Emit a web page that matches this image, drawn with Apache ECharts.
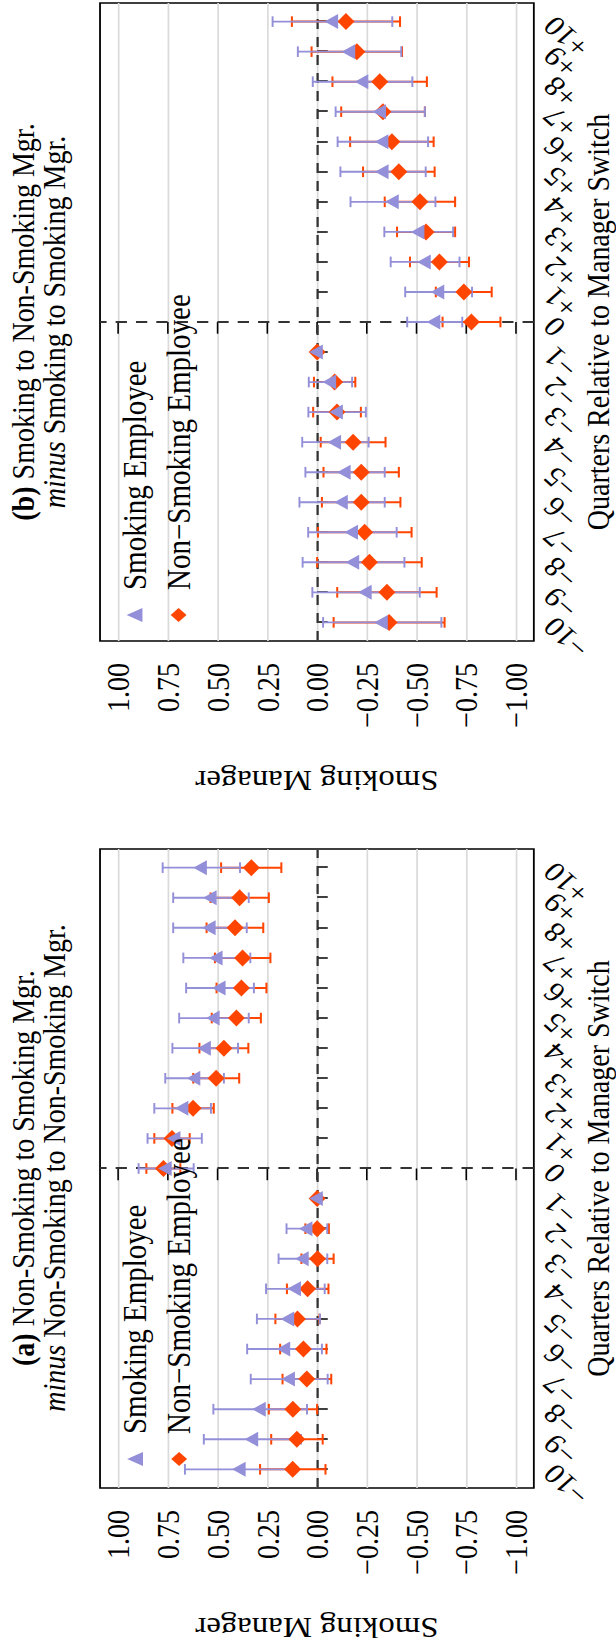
<!DOCTYPE html>
<html><head><meta charset="utf-8">
<script src="https://cdn.jsdelivr.net/npm/echarts@6/dist/echarts.min.js"></script>
<style>
html,body{margin:0;padding:0;overflow:hidden;background:#fff;width:616px;height:1650px;}
#chart{position:absolute;left:0;top:0;width:1650px;height:545px;transform-origin:0 0;transform:translate(0px,1650px) rotate(-90deg) scaleY(1.1303);}
</style></head><body><div id="chart"></div>
<script>
// ---------------- data ----------------
const quarters = [-10,-9,-8,-7,-6,-5,-4,-3,-2,-1,0,1,2,3,4,5,6,7,8,9,10];
const quarterLabels = ['\u221210','\u22129','\u22128','\u22127','\u22126','\u22125','\u22124','\u22123','\u22122','\u22121','0','+1','+2','+3','+4','+5','+6','+7','+8','+9','+10'];
const valueTicks = [-1,-0.75,-0.5,-0.25,0,0.25,0.5,0.75,1];
const valueTickLabels = ['\u22121.00','\u22120.75','\u22120.50','\u22120.25','0.00','0.25','0.50','0.75','1.00'];

// Panel (a): Non-Smoking to Smoking Mgr. minus Non-Smoking to Non-Smoking Mgr.
const aSmokEst = [0.388,0.325,0.287,0.140,0.164,0.144,0.110,0.071,0.052,0, 0.760,0.716,0.676,0.616,0.563,0.519,0.489,0.504,0.539,0.534,0.583];
const aSmokLo  = [0.111,0.081,0.051,-0.053,-0.024,-0.014,-0.038,-0.051,-0.051,null, 0.621,0.580,0.534,0.469,0.398,0.344,0.318,0.336,0.354,0.344,0.388];
const aSmokHi  = [0.665,0.570,0.522,0.334,0.352,0.303,0.257,0.194,0.154,null, 0.898,0.853,0.819,0.764,0.728,0.694,0.659,0.673,0.724,0.724,0.777];
const aNonEst  = [0.123,0.102,0.122,0.052,0.069,0.099,0.048,-0.002,0.000,0, 0.773,0.730,0.624,0.508,0.469,0.406,0.381,0.375,0.413,0.390,0.331];
const aNonLo   = [-0.042,-0.028,0.000,-0.071,-0.047,-0.012,-0.057,-0.083,-0.059,null, 0.688,0.641,0.520,0.392,0.346,0.283,0.255,0.235,0.271,0.243,0.180];
const aNonHi   = [0.287,0.231,0.243,0.174,0.186,0.210,0.152,0.079,0.059,null, 0.859,0.819,0.728,0.623,0.592,0.530,0.506,0.514,0.556,0.536,0.483];

// Panel (b): Smoking to Non-Smoking Mgr. minus Smoking to Smoking Mgr.
const bSmokEst = [-0.327,-0.246,-0.183,-0.177,-0.126,-0.140,-0.092,-0.101,-0.067,0, -0.591,-0.611,-0.543,-0.511,-0.382,-0.331,-0.330,-0.318,-0.229,-0.163,-0.077];
const bSmokLo  = [-0.625,-0.516,-0.439,-0.400,-0.340,-0.340,-0.259,-0.245,-0.176,null, -0.730,-0.779,-0.716,-0.684,-0.595,-0.546,-0.558,-0.542,-0.479,-0.423,-0.378];
const bSmokHi  = [-0.030,0.024,0.073,0.045,0.089,0.059,0.075,0.044,0.042,null, -0.453,-0.443,-0.370,-0.338,-0.168,-0.117,-0.103,-0.093,0.022,0.097,0.224];
const bNonEst  = [-0.362,-0.351,-0.263,-0.239,-0.222,-0.222,-0.181,-0.100,-0.088,0, -0.776,-0.738,-0.615,-0.548,-0.517,-0.411,-0.376,-0.331,-0.315,-0.200,-0.145];
const bNonLo   = [-0.641,-0.601,-0.526,-0.475,-0.419,-0.411,-0.344,-0.220,-0.192,null, -0.922,-0.878,-0.764,-0.694,-0.694,-0.591,-0.586,-0.542,-0.552,-0.427,-0.417];
const bNonHi   = [-0.083,-0.101,0.000,-0.004,-0.024,-0.032,-0.018,0.020,0.016,null, -0.631,-0.597,-0.467,-0.402,-0.340,-0.231,-0.166,-0.121,-0.077,0.028,0.127];

const panelTitles = [
  '{b|(a)} Non-Smoking to Smoking Mgr.\n{i|minus} Non-Smoking to Non-Smoking Mgr.',
  '{b|(b)} Smoking to Non-Smoking Mgr.\n{i|minus} Smoking to Smoking Mgr.'
];
const smokName = 'Smoking Employee';
const nonName = 'Non\u2212Smoking Employee';

// label order: even quarters first, then odd ones (keeps ECharts from
// treating neighbouring rotated labels at the axis ends as overlapping)
const labelOrder = quarters.filter(q => q % 2 === 0).concat(quarters.filter(q => q % 2 !== 0));

// ---------------- styles ----------------
const FONT = 'Liberation Serif, Times New Roman, serif';
const PURPLE = '#938FD8';
const ORANGE = '#FF4500';
const grids = [
  {left:162, top:88.5, width:639, height:383.8},
  {left:1009, top:88.5, width:638, height:383.8}
];
const titleCenters = [482, 1328];
const legendPos = [{left:184, top:104.5}, {left:1028, top:104}];

function errRenderer(width){
  return function(params, api){
    const x = api.value(0), lo = api.value(1), hi = api.value(2);
    if (isNaN(lo) || isNaN(hi)) return null;
    const p1 = api.coord([x, lo]), p2 = api.coord([x, hi]);
    const st = {stroke: api.visual('color'), lineWidth: width, fill: null};
    const st2 = {stroke: api.visual('color'), lineWidth: width * 0.9, fill: null};
    const c = 5.3;
    return {type:'group', children:[
      {type:'line', shape:{x1:p1[0], y1:p1[1], x2:p2[0], y2:p2[1]}, style:st},
      {type:'line', shape:{x1:p1[0]-c, y1:p1[1], x2:p1[0]+c, y2:p1[1]}, style:st2},
      {type:'line', shape:{x1:p2[0]-c, y1:p2[1], x2:p2[0]+c, y2:p2[1]}, style:st2}
    ]};
  };
}
function errData(lo, hi){
  const out = [];
  quarters.forEach((q,i)=>{ if (lo[i] != null) out.push([q, lo[i], hi[i]]); });
  return out;
}
function ptData(est){ return quarters.map((q,i)=>[q, est[i]]); }

const panels = [
  {smokEst:aSmokEst, smokLo:aSmokLo, smokHi:aSmokHi, nonEst:aNonEst, nonLo:aNonLo, nonHi:aNonHi},
  {smokEst:bSmokEst, smokLo:bSmokLo, smokHi:bSmokHi, nonEst:bNonEst, nonLo:bNonLo, nonHi:bNonHi}
];

const option = {
  animation:false,
  backgroundColor:'#fff',
  title: panelTitles.map((t,g)=>({
    text:t, left:titleCenters[g], top:6, textAlign:'center', padding:0,
    textStyle:{fontFamily:FONT, fontSize:28, fontWeight:'normal', color:'#000', lineHeight:27.8,
      rich:{ b:{fontFamily:FONT, fontSize:28, fontWeight:'bold', color:'#000', lineHeight:27.8},
             i:{fontFamily:FONT, fontSize:28, fontStyle:'italic', color:'#000', lineHeight:27.8} }}
  })),
  legend: legendPos.map(p=>({
    left:p.left, top:p.top, orient:'vertical', padding:0,
    itemWidth:14, itemHeight:14, itemGap:9, selectedMode:false,
    data:[{name:smokName, icon:'triangle'}, {name:nonName, icon:'diamond'}],
    formatter: n => '{s|}' + n,
    textStyle:{fontFamily:FONT, fontSize:29, color:'#000', lineHeight:30,
      rich:{s:{width:13, fontSize:29, lineHeight:30}}}
  })),
  grid: grids.map(g=>Object.assign({show:true, borderColor:'#000', borderWidth:1.6, backgroundColor:'transparent', containLabel:false, outerBoundsMode:'none'}, g)),
  xAxis: grids.map((g,i)=>({
    gridIndex:i, type:'value', min:-10.62, max:10.62,
    axisLine:{show:false},
    axisTick:{show:true, inside:false, length:9.4, customValues:quarters, lineStyle:{color:'#000', width:1.5}},
    axisLabel:{show:true, customValues:labelOrder, rotate:45, margin:13, hideOverlap:false,
      showMinLabel:true, showMaxLabel:true, lineHeight:12,
      fontFamily:FONT, fontSize:28, color:'#000',
      formatter:v=>quarterLabels[quarters.indexOf(v)]},
    splitLine:{show:false},
    name:'Quarters Relative to Manager Switch', nameLocation:'middle', nameGap:46, nameMoveOverlap:false,
    nameTextStyle:{fontFamily:FONT, fontSize:28, color:'#000', lineHeight:22}
  })),
  yAxis: grids.map((g,i)=>({
    gridIndex:i, type:'value', min:-1.09, max:1.092,
    axisLine:{show:false},
    axisTick:{show:true, inside:false, length:11.7, customValues:valueTicks, lineStyle:{color:'#000', width:1.4}},
    axisLabel:{show:true, customValues:valueTicks, margin:22, hideOverlap:false,
      showMinLabel:true, showMaxLabel:true,
      fontFamily:FONT, fontSize:28, color:'#000',
      formatter:v=>valueTickLabels[valueTicks.indexOf(v)]},
    splitLine:{show:true, lineStyle:{color:'#dadada', width:1.5}},
    name:'Smoking Manager', nameLocation:'middle', nameGap:125, nameRotate:90, nameMoveOverlap:false,
    nameTextStyle:{fontFamily:FONT, fontSize:29, color:'#000'}
  })),
  series: []
};

panels.forEach((p,g)=>{
  option.series.push({
    type:'custom', name:'ciNon'+g, xAxisIndex:g, yAxisIndex:g, z:2,
    itemStyle:{color:ORANGE}, renderItem:errRenderer(2),
    encode:{x:0, y:[1,2]}, data:errData(p.nonLo, p.nonHi),
    markLine:{silent:true, symbol:'none', z:1, label:{show:false},
      lineStyle:{color:'#333', width:2, type:[10,8]},
      data:[{xAxis:0}, {yAxis:0}]}
  });
  option.series.push({
    type:'scatter', name:nonName, xAxisIndex:g, yAxisIndex:g, z:2,
    symbol:'diamond', symbolSize:[17,15],
    itemStyle:{color:ORANGE, opacity:1}, data:ptData(p.nonEst)
  });
  option.series.push({
    type:'custom', name:'ciSmok'+g, xAxisIndex:g, yAxisIndex:g, z:2,
    itemStyle:{color:PURPLE}, renderItem:errRenderer(1.9),
    encode:{x:0, y:[1,2]}, data:errData(p.smokLo, p.smokHi)
  });
  option.series.push({
    type:'scatter', name:smokName, xAxisIndex:g, yAxisIndex:g, z:2,
    symbol:'triangle', symbolSize:[15,12], symbolOffset:[0,-1],
    itemStyle:{color:PURPLE, opacity:1}, data:ptData(p.smokEst)
  });
});

const chart = echarts.init(document.getElementById('chart'), null, {renderer:'svg', width:1650, height:545});
chart.setOption(option);
</script></body></html>
